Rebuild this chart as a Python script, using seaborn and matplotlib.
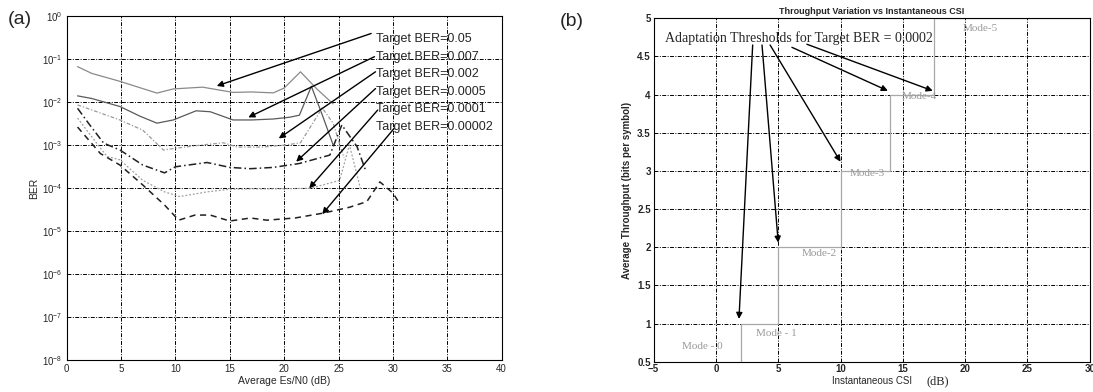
import numpy as np
import pandas as pd
import matplotlib
matplotlib.use("Agg")
import matplotlib.pyplot as plt
import seaborn as sns

# ---------------- data: panel (a) ----------------
targets = ["0.05", "0.007", "0.002", "0.0005", "0.0001", "0.00002"]
snr_a = [1, 2.3, 4.9, 8.3, 9.8, 12.5, 15.3, 17, 19, 20, 21.5, 23, 24.5]
ber_a = [0.066, 0.046, 0.030, 0.016, 0.020, 0.022, 0.0166, 0.017, 0.0162, 0.021, 0.050, 0.020, 0.009]
snr_b = [1, 2.3, 4.9, 6.7, 8.3, 9.8, 11.9, 13.2, 15.3, 17, 19, 20.5, 21.4, 22.5, 23.5, 24.5]
ber_b = [0.0138, 0.012, 0.0078, 0.0047, 0.0032, 0.0038, 0.0062, 0.0059, 0.0038, 0.0038, 0.004,
         0.0044, 0.0049, 0.023, 0.005, 0.001]
snr_c = [1, 4.9, 7, 8.9, 9.9, 12.5, 14.4, 15.7, 18, 20.2, 21.5, 23.5, 24.5, 25.5]
ber_c = [0.0085, 0.0038, 0.0022, 0.00076, 0.00083, 0.001, 0.00112, 0.00089, 0.00089, 0.001,
         0.00112, 0.0072, 0.0032, 0.0005]
snr_d = [1, 2, 3.4, 4.9, 7, 9, 10, 12.9, 15, 16.9, 19, 21.4, 24.2, 25.3, 26.7, 27.5]
ber_d = [0.0071, 0.0032, 0.0011, 0.00076, 0.00034, 0.000224, 0.00031, 0.00039, 0.0003, 0.00028,
         0.0003, 0.00037, 0.00058, 0.0029, 0.00091, 0.00025]
snr_e = [1, 2.3, 3.7, 4.9, 7, 9, 10.4, 12.9, 15, 16.9, 19, 22.4, 25.1, 26, 27]
ber_e = [0.0042, 0.00155, 0.00054, 0.00045, 0.00015, 0.000081, 0.000063, 0.000081, 0.000093,
         0.000095, 0.000095, 0.000098, 0.00015, 0.001, 0.0001]
snr_f = [1, 3.1, 4.9, 7, 9, 10.3, 11.8, 13.2, 15, 16.9, 18.4, 21, 23.6, 26, 27.6, 28.8, 30, 30.5]
ber_f = [0.0026, 0.00063, 0.00034, 0.000117, 0.00004, 0.0000178, 0.0000234, 0.0000234, 0.000017,
         0.00002, 0.0000178, 0.00002, 0.000026, 0.0000355, 0.000048, 0.000138, 0.000076, 0.000048]

# ---------------- data: panel (b) ----------------
thresholds_db = [-5, 2, 5, 10, 14, 17.5, 30]
mode_throughput = [0, 1, 2, 3, 4, 5, 5]
mode_labels = ["Mode - 0", "Mode - 1", "Mode-2", "Mode-3", "Mode-4", "Mode-5"]

# ---------------- style ----------------
sns.set_style("white")
plt.rcParams["font.family"] = ["Liberation Sans", "DejaVu Sans"]
plt.rcParams["mathtext.fontset"] = "custom"
plt.rcParams["mathtext.rm"] = "Liberation Sans"
plt.rcParams["mathtext.it"] = "Liberation Sans"
plt.rcParams["mathtext.bf"] = "Liberation Sans:bold"

fig = plt.figure(figsize=(10.93, 3.92), dpi=100)
ax1 = fig.add_axes([0.061, 0.0816, 0.398, 0.878])
ax2 = fig.add_axes([0.598, 0.0773, 0.399, 0.876])

grid_kw = dict(color="black", linestyle=(0, (4, 1.5, 1, 1.5)), linewidth=0.7)

# ---------------- panel (a) ----------------
series = [(snr_a, ber_a), (snr_b, ber_b), (snr_c, ber_c), (snr_d, ber_d), (snr_e, ber_e), (snr_f, ber_f)]
rows = []
for t, (xs, ys) in zip(targets, series):
    for x, y in zip(xs, ys):
        rows.append({"target": t, "snr": x, "ber": y})
df = pd.DataFrame(rows)

styles = {
    "0.05": dict(color="#8a8a8a", linestyle="-", linewidth=0.9),
    "0.007": dict(color="#5a5a5a", linestyle="-", linewidth=0.9),
    "0.002": dict(color="#9a9a9a", linestyle=(0, (3, 1.5, 1, 1.5)), linewidth=0.9),
    "0.0005": dict(color="#202020", linestyle=(0, (5, 2, 1, 2)), linewidth=1.1),
    "0.0001": dict(color="#a0a0a0", linestyle=(0, (1.5, 1.5)), linewidth=0.9),
    "0.00002": dict(color="#202020", linestyle=(0, (4, 3)), linewidth=1.1),
}
for t in targets:
    sub = df[df["target"] == t]
    sns.lineplot(data=sub, x="snr", y="ber", ax=ax1, legend=False, **styles[t])

ax1.set_yscale("log")
ax1.set_xlim(0, 40)
ax1.set_ylim(1e-8, 1)
ax1.set_xticks(range(0, 41, 5))
ax1.yaxis.set_major_locator(matplotlib.ticker.LogLocator(base=10, numticks=12))
ax1.yaxis.set_minor_locator(matplotlib.ticker.NullLocator())
ax1.grid(True, which="major", **grid_kw)
ax1.set_xlabel("Average Es/N0 (dB)", fontsize=7.5, labelpad=1)
ax1.set_ylabel("BER", fontsize=7.5, labelpad=2)
ax1.tick_params(axis="both", labelsize=7, direction="in", length=3, pad=3)

label_y = [10 ** -0.54, 10 ** -0.96, 10 ** -1.35, 10 ** -1.77, 10 ** -2.17, 10 ** -2.58]
arrow_from = [(28.0, 10 ** -0.41), (28.3, 10 ** -0.95), (28.4, 10 ** -1.30),
              (28.4, 10 ** -1.69), (28.6, 10 ** -2.19), (30.1, 10 ** -2.62)]
arrow_to = [(13.8, 10 ** -1.63), (16.7, 10 ** -2.36), (19.5, 10 ** -2.85),
            (21.1, 10 ** -3.39), (22.3, 10 ** -4.01), (23.5, 10 ** -4.61)]
for t, ly, a0, a1 in zip(targets, label_y, arrow_from, arrow_to):
    ax1.annotate("", xy=a1, xytext=a0,
                 arrowprops=dict(arrowstyle="-|>", color="black", lw=1.0,
                                 mutation_scale=9, shrinkA=0, shrinkB=0))
    ax1.text(28.4, ly, f"Target BER={t}", fontsize=9, va="center", ha="left")

for s in ax1.spines.values():
    s.set_color("black")
    s.set_linewidth(0.8)

# ---------------- panel (b) ----------------
df_b = pd.DataFrame({"csi": thresholds_db, "thr": mode_throughput})
sns.lineplot(data=df_b, x="csi", y="thr", ax=ax2, drawstyle="steps-post",
             color="#a8a8a8", linewidth=0.9, legend=False)
ax2.set_xlim(-5, 30)
ax2.set_ylim(0.5, 5)
ax2.set_xticks(range(-5, 31, 5))
ax2.set_yticks(np.arange(0.5, 5.01, 0.5))
ax2.set_yticklabels(["0.5", "1", "1.5", "2", "2.5", "3", "3.5", "4", "4.5", "5"])
ax2.grid(True, **grid_kw)
ax2.tick_params(axis="both", labelsize=7, direction="in", length=3, pad=2)
for lab in ax2.get_xticklabels() + ax2.get_yticklabels():
    lab.set_fontweight("bold")
ax2.set_xlabel("Instantaneous CSI", fontsize=7, labelpad=1)
ax2.set_ylabel("Average Throughput (bits per symbol)", fontsize=7, fontweight="bold", labelpad=4)
ax2.set_title("Throughput Variation vs Instantaneous CSI", fontsize=6.5, fontweight="bold", pad=3)
ax2.text(0.652, -0.058, "(dB)", transform=ax2.transAxes, fontsize=9,
         family=["Liberation Serif", "DejaVu Serif"], va="center", ha="center")

ax2.text(-4.1, 4.74, "Adaptation Thresholds for Target BER = 0.0002", fontsize=10,
         family=["Liberation Serif", "DejaVu Serif"], va="center", ha="left")
mode_pos = [(-2.7, 0.70), (3.2, 0.87), (6.85, 1.92), (10.7, 2.96), (14.9, 3.97), (19.8, 4.86)]
for lab, (mx, my) in zip(mode_labels, mode_pos):
    ax2.text(mx, my, lab, fontsize=8, color="#9a9a9a",
             family=["Liberation Serif", "DejaVu Serif"], va="center", ha="left")

b_from = [(2.95, 4.65), (3.7, 4.65), (4.35, 4.65), (6.1, 4.62), (7.3, 4.66)]
b_to = [(1.85, 1.06), (5.0, 2.06), (10.0, 3.12), (13.8, 4.05), (17.4, 4.05)]
for a0, a1 in zip(b_from, b_to):
    ax2.annotate("", xy=a1, xytext=a0,
                 arrowprops=dict(arrowstyle="-|>", color="black", lw=1.0,
                                 mutation_scale=9, shrinkA=0, shrinkB=0))
for s in ax2.spines.values():
    s.set_color("black")
    s.set_linewidth(0.8)

fig.text(20 / 1093, 1 - 20 / 392, "(a)", fontsize=14, ha="center", va="center")
fig.text(572 / 1093, 1 - 22 / 392, "(b)", fontsize=14, ha="center", va="center")

fig.savefig("out.png", dpi=100)
